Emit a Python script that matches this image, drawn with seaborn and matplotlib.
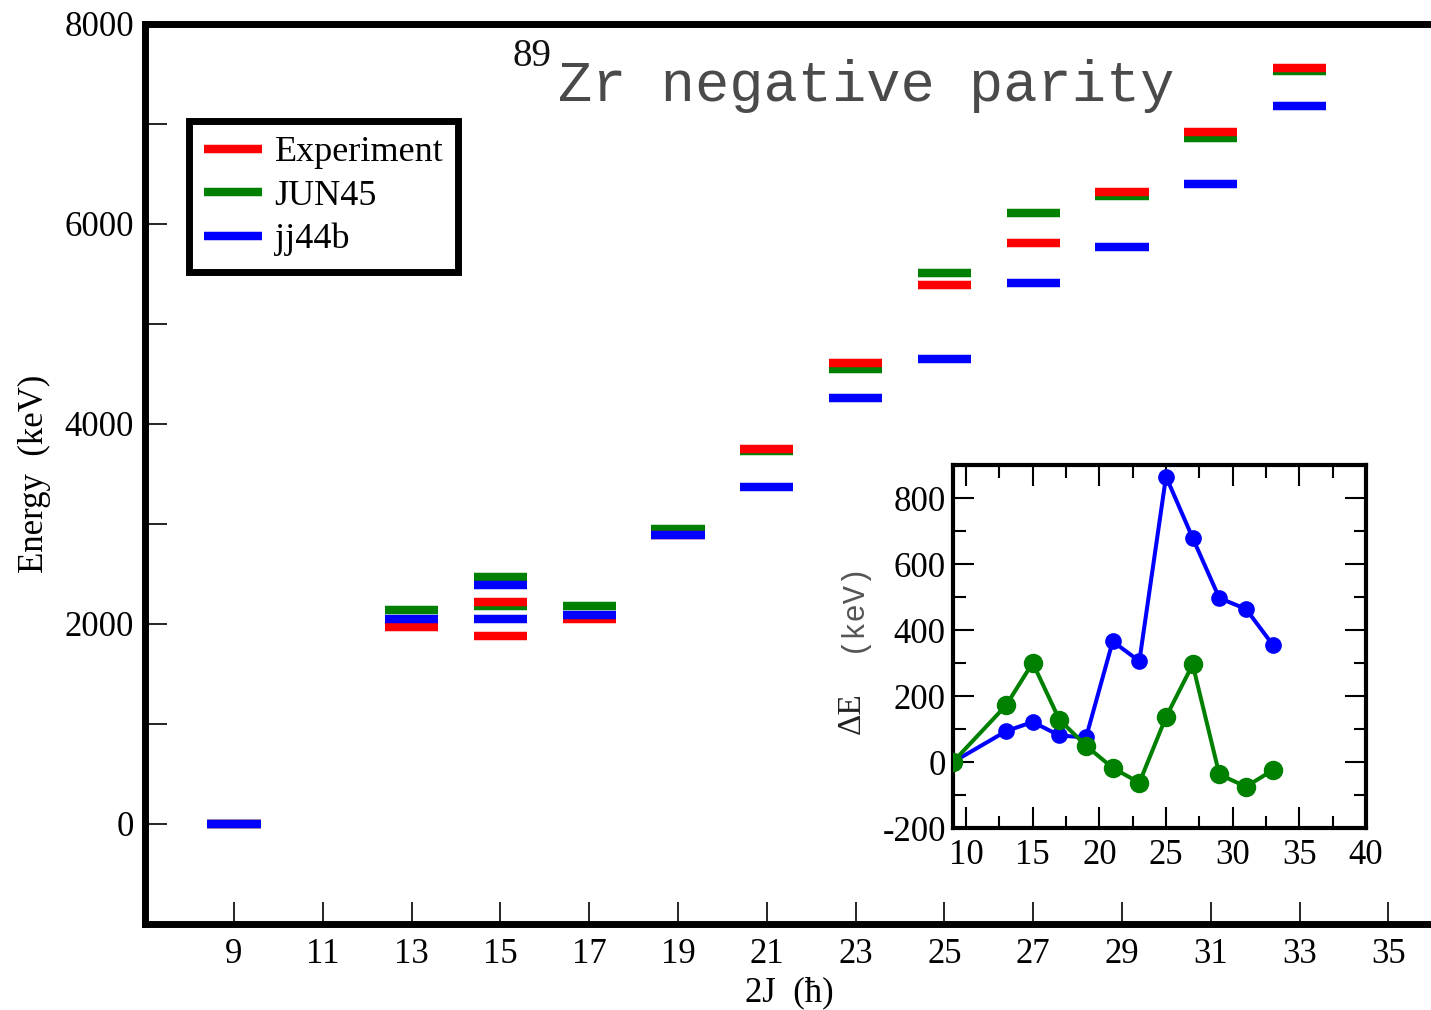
import numpy as np
import pandas as pd
import matplotlib
matplotlib.use("Agg")
import matplotlib.pyplot as plt
from matplotlib.ticker import MultipleLocator
import seaborn as sns

# ---------------- data ----------------
# level energies (keV) vs 2J
exp_J = [9, 13, 15, 15, 17, 19, 21, 23, 25, 27, 29, 31, 33]
exp_E = [0, 1970, 1885, 2220, 2052, 2895, 3752, 4615, 5390, 5815, 6320, 6923, 7557]

jun_J = [9, 13, 15, 15, 17, 19, 21, 23, 25, 27, 29, 31, 33]
jun_E = [0, 2140, 2180, 2470, 2177, 2954, 3733, 4550, 5515, 6107, 6276, 6863, 7533]

jj_J = [9, 13, 15, 15, 17, 19, 21, 23, 25, 27, 29, 31, 33]
jj_E = [0, 2053, 2053, 2390, 2090, 2895, 3375, 4257, 4655, 5415, 5772, 6403, 7178]

# inset: energy differences (keV)
dE_J = [9, 13, 15, 17, 19, 21, 23, 25, 27, 29, 31, 33]
dE_jun = [0, 172, 301, 129, 50, -17, -62, 137, 296, -37, -74, -24]
dE_jj = [0, 94, 122, 81, 75, 366, 306, 865, 679, 497, 464, 356]

x_ticks = list(range(9, 36, 2))
y_ticks = [0, 2000, 4000, 6000, 8000]
inset_x_ticks = [10, 15, 20, 25, 30, 35, 40]
inset_y_ticks = [-200, 0, 200, 400, 600, 800]

RED, GREEN, BLUE = "#ff0000", "#008000", "#0000ff"

# ---------------- style ----------------
sns.set_theme(style="white")
plt.rcParams["font.family"] = ["Liberation Serif", "DejaVu Serif"]
plt.rcParams["axes.edgecolor"] = "black"

W, H = 1431, 1010
fig = plt.figure(figsize=(W / 100, H / 100), dpi=100)
fig.patch.set_facecolor("white")

# main axes: x 7..36, y -1000..8000
ax = fig.add_axes([145.2 / W, 1 - 924 / H, 1287.6 / W, 900 / H])
ax.set_facecolor("white")
ax.set_xlim(7, 36)
ax.set_ylim(-1000, 8000)

half = 0.6
lw_bar = 6.1
ax.hlines(jun_E, np.array(jun_J) - half, np.array(jun_J) + half, colors=GREEN,
          linewidth=lw_bar, label="JUN45", zorder=2)
ax.hlines(exp_E, np.array(exp_J) - half, np.array(exp_J) + half, colors=RED,
          linewidth=lw_bar, label="Experiment", zorder=3)
ax.hlines(jj_E, np.array(jj_J) - half, np.array(jj_J) + half, colors=BLUE,
          linewidth=lw_bar, label="jj44b", zorder=4)

for s in ax.spines.values():
    s.set_linewidth(5)
    s.set_color("black")

ax.set_xticks(x_ticks)
ax.set_xticklabels([str(v) for v in x_ticks])
ax.set_yticks(y_ticks)
ax.set_yticklabels([str(v) for v in y_ticks])
ax.yaxis.set_minor_locator(MultipleLocator(1000))
ax.tick_params(axis="both", which="major", direction="in", length=16, width=1.2,
               color="black", labelsize=25, labelcolor="black",
               bottom=True, left=True, top=False, right=False)
ax.tick_params(axis="x", which="major", pad=10)
ax.tick_params(axis="y", which="major", pad=8)
ax.tick_params(axis="y", which="minor", direction="in", length=16, width=1.2,
               left=True, right=False, color="black")
ax.grid(False)

ax.set_xlabel("2J  (ħ)", fontsize=25, color="black", labelpad=4)
ax.set_ylabel("Energy  (keV)", fontsize=25, color="black", labelpad=10)

# legend
handles, labels = ax.get_legend_handles_labels()
order = [labels.index(n) for n in ["Experiment", "JUN45", "jj44b"]]
leg = ax.legend([handles[i] for i in order], [labels[i] for i in order],
                loc="upper left", bbox_to_anchor=(189 / W, 1 - 121 / H),
                bbox_transform=fig.transFigure, borderaxespad=0,
                fontsize=26, frameon=True, fancybox=False, shadow=False,
                handlelength=1.6, handletextpad=0.35, borderpad=0.42,
                labelspacing=0.28)
leg.get_frame().set_edgecolor("black")
leg.get_frame().set_linewidth(5)
leg.get_frame().set_facecolor("white")
leg.get_frame().set_alpha(1)
for t in leg.get_texts():
    t.set_color("black")

# title
fig.text(513 / W, 1 - 66 / H, "89", fontsize=28, color="#111111",
         family="Liberation Serif", va="baseline", ha="left")
fig.text(558 / W, 1 - 101 / H, "Zr negative parity", fontsize=41,
         color="#4a4a4a", family="Liberation Mono", va="baseline", ha="left")

# ---------------- inset ----------------
ins = fig.add_axes([952.7 / W, 1 - 828.3 / H, 413.3 / W, 363.3 / H])
ins.set_facecolor("white")
ins.set_zorder(5)

df_jj = pd.DataFrame({"J": dE_J, "dE": dE_jj})
df_jun = pd.DataFrame({"J": dE_J, "dE": dE_jun})
sns.lineplot(data=df_jj, x="J", y="dE", ax=ins, color=BLUE, linewidth=2.9,
             marker="o", markersize=10.5, markeredgecolor=BLUE, markeredgewidth=1.5,
             legend=False, zorder=3)
sns.lineplot(data=df_jun, x="J", y="dE", ax=ins, color=GREEN, linewidth=2.9,
             marker="o", markersize=12.5, markeredgecolor=GREEN, markeredgewidth=1.5,
             legend=False, zorder=4)

ins.set_xlim(9, 40)
ins.set_ylim(-200, 900)
ins.set_xticks(inset_x_ticks)
ins.set_xticklabels([str(v) for v in inset_x_ticks])
ins.set_yticks(inset_y_ticks)
ins.set_yticklabels([str(v) for v in inset_y_ticks])
ins.xaxis.set_minor_locator(MultipleLocator(2.5))
ins.yaxis.set_minor_locator(MultipleLocator(100))
ins.tick_params(axis="both", which="major", direction="in", length=15, width=1.5,
                color="black", labelsize=25, labelcolor="black",
                top=True, bottom=True, left=True, right=True)
ins.tick_params(axis="both", which="minor", direction="in", length=9, width=1.5,
                color="black", top=True, bottom=True, left=True, right=True)
ins.tick_params(axis="x", which="major", pad=8)
ins.tick_params(axis="y", which="major", pad=5)
for s in ins.spines.values():
    s.set_linewidth(3)
    s.set_color("black")
ins.grid(False)
ins.set_xlabel("")
ins.set_ylabel("")

ins.text(-0.245, 0.317, "ΔE", rotation=90, transform=ins.transAxes,
         fontsize=24, family="Liberation Serif", color="#222222",
         ha="center", va="center")
ins.text(-0.245, 0.612, "(keV)", rotation=90, transform=ins.transAxes,
         fontsize=22, family="Liberation Mono", color="#555555",
         ha="center", va="center")

fig.savefig("out.png", dpi=100, facecolor="white")
